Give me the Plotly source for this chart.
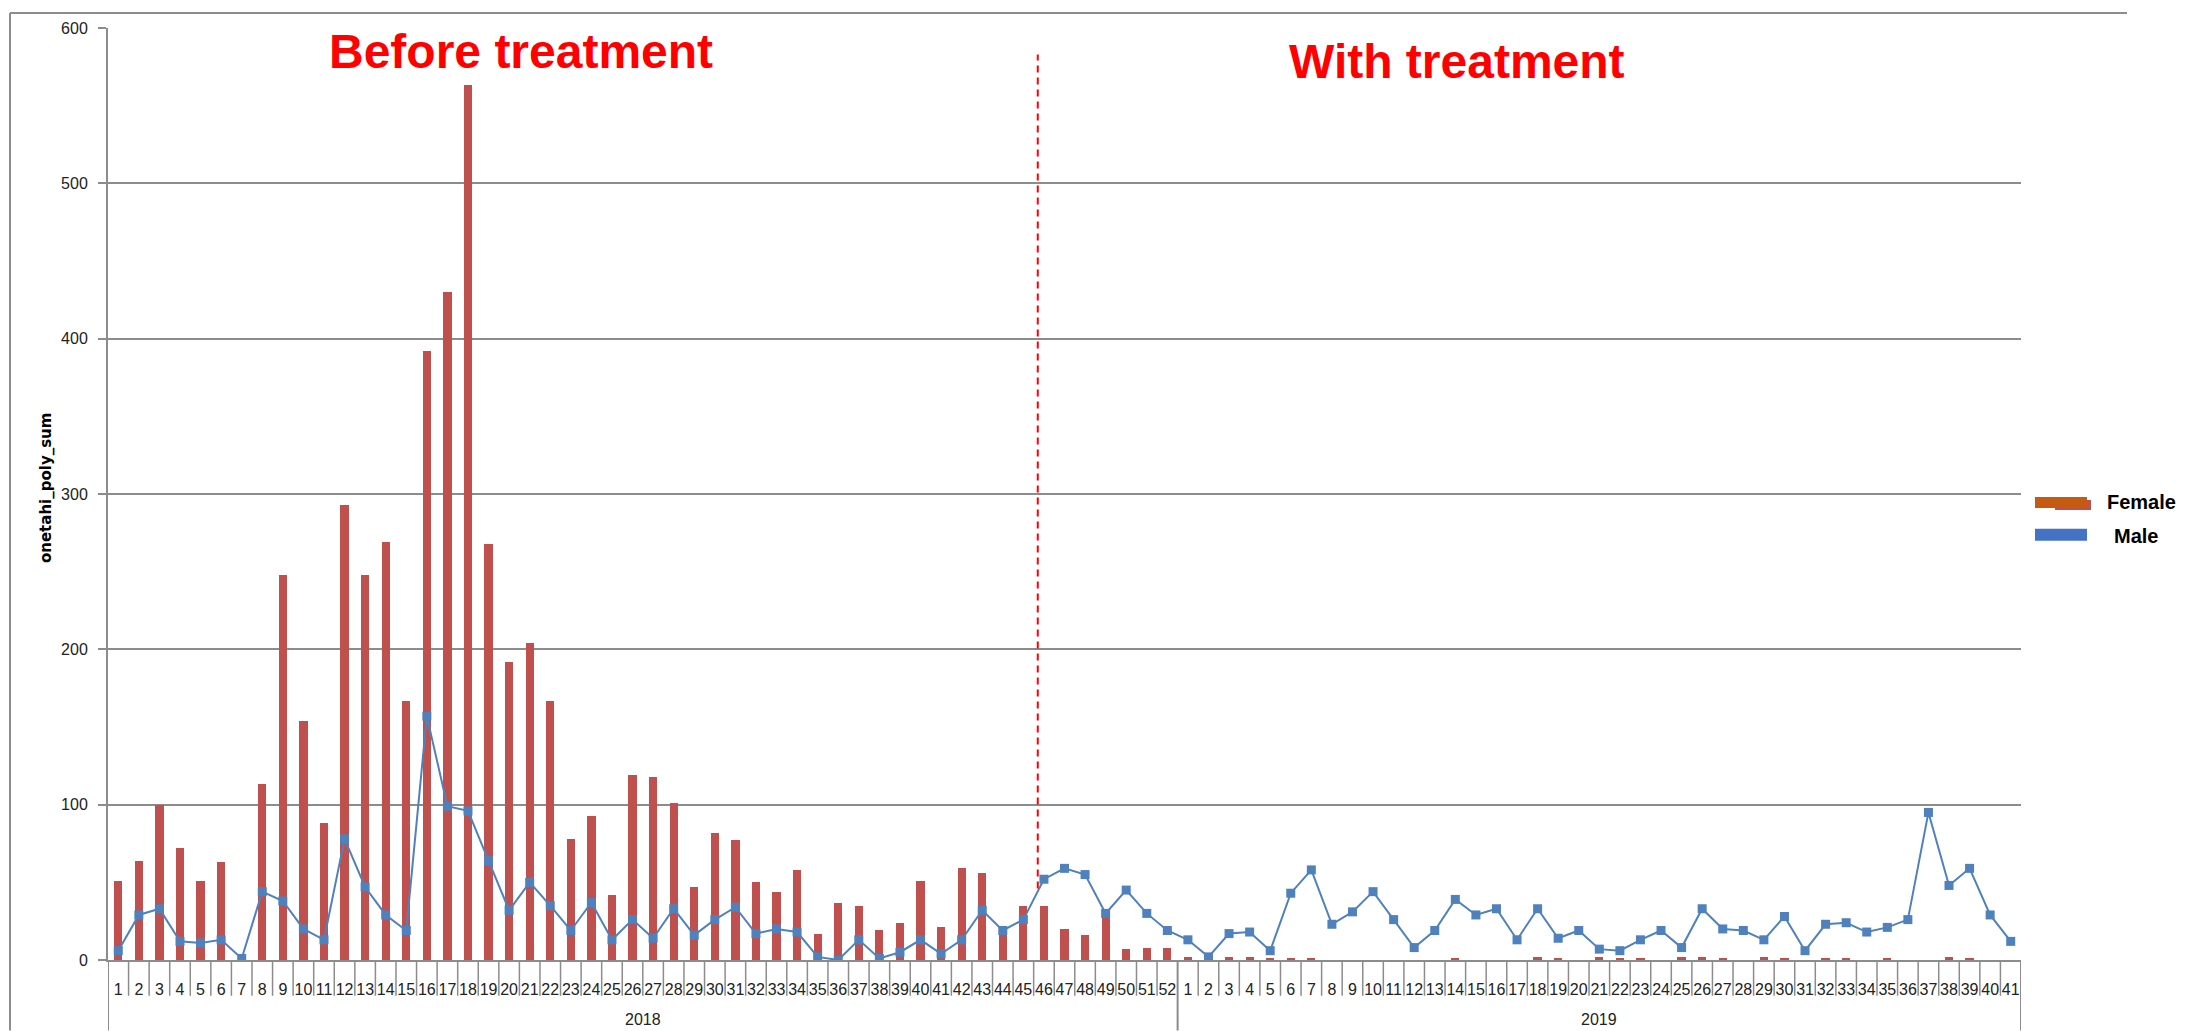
import plotly.graph_objects as go

# ---------------- data ----------------
years = ["2018", "2019"]
weeks_2018 = [str(w) for w in range(1, 53)]
weeks_2019 = [str(w) for w in range(1, 42)]

female_2018 = [51, 64, 100, 72, 51, 63, 4, 113, 248, 154, 88, 293, 248, 269, 167, 392, 430, 563,
               268, 192, 204, 167, 78, 93, 42, 119, 118, 101, 47, 82, 77, 50, 44, 58, 17, 37, 35,
               19, 24, 51, 21, 59, 56, 19, 35, 35, 20, 16, 33, 7, 8, 8]
female_2019 = [2, 1, 2, 2, 1, 1, 1, 0, 0, 0, 0, 0, 0, 1, 0, 0, 0, 2, 1, 0, 2, 1, 1, 0, 2, 2, 1, 0,
               2, 1, 0, 1, 1, 0, 1, 0, 0, 2, 1, 0, 0]
male_2018 = [6, 29, 33, 12, 11, 13, 1, 44, 38, 20, 13, 78, 47, 29, 19, 157, 99, 96, 64, 32, 50, 35,
             19, 37, 13, 26, 14, 33, 16, 26, 34, 17, 20, 18, 2, 0, 13, 1, 5, 13, 4, 13, 32, 19, 26,
             52, 59, 55, 30, 45, 30, 19]
male_2019 = [13, 2, 17, 18, 6, 43, 58, 23, 31, 44, 26, 8, 19, 39, 29, 33, 13, 33, 14, 19, 7, 6, 13,
             19, 8, 33, 20, 19, 13, 28, 6, 23, 24, 18, 21, 26, 95, 48, 59, 29, 12]

y_ticks = [0, 100, 200, 300, 400, 500, 600]
treatment_start = 44.7          # category position of the dashed marker line
treatment_line_range = [46, 583]
labels_text = ["Before treatment", "With treatment"]

# ---------------- derived ----------------
week_labels = weeks_2018 + weeks_2019
female = female_2018 + female_2019
male = male_2018 + male_2019
idx = list(range(len(week_labels)))
n18 = len(weeks_2018)
n = len(week_labels)

W, H = 2205, 1031
OFF = 8                      # browser default body margin
L, R, T, B = 108, 2021, 22, 960   # plot area in page pixels
PW, PH = R - L, B - T

def px(x):
    return (x - L) / PW

def py(y):
    return (B - y) / PH

GRAY = "#8c8c8c"
TXT = "#222222"
BAR = "#C0504D"
LINE = "#4F81BD"

fig = go.Figure()
fig.add_trace(go.Bar(x=idx, y=female, width=0.4, marker=dict(color=BAR, line=dict(width=0)),
                     name="Female", showlegend=False))
fig.add_trace(go.Scatter(x=idx, y=male, mode="lines+markers", name="Male", showlegend=False,
                         line=dict(color=LINE, width=2),
                         marker=dict(symbol="square", size=9, color=LINE)))

shapes = []
# category dividers below the axis
for i in range(n + 1):
    b = i - 0.5
    long = i in (0, n18, n)
    shapes.append(dict(type="line", xref="x", yref="paper", x0=b, x1=b, y0=0,
                       y1=py(H if long else B + 36),
                       line=dict(color=GRAY, width=2 if long else 1.5)))
# outer chart border (top and left)
shapes.append(dict(type="line", xref="paper", yref="paper", x0=px(10), x1=px(2127),
                   y0=py(7), y1=py(7), line=dict(color=GRAY, width=2)))
shapes.append(dict(type="line", xref="paper", yref="paper", x0=px(10), x1=px(10),
                   y0=py(7), y1=py(H), line=dict(color=GRAY, width=2)))
# treatment dashed line
shapes.append(dict(type="line", xref="x", yref="y", x0=treatment_start, x1=treatment_start,
                   y0=treatment_line_range[0], y1=treatment_line_range[1],
                   line=dict(color="#FF0000", width=2, dash="7px,5px")))
# legend swatches
shapes.append(dict(type="rect", xref="paper", yref="paper", x0=px(2055), x1=px(2091),
                   y0=py(507), y1=py(497), line=dict(width=0), fillcolor=BAR))
shapes.append(dict(type="rect", xref="paper", yref="paper", x0=px(2035), x1=px(2087),
                   y0=py(505), y1=py(494), line=dict(width=0), fillcolor="#C55A11"))
shapes.append(dict(type="rect", xref="paper", yref="paper", x0=px(2035), x1=px(2087),
                   y0=py(538), y1=py(526), line=dict(width=0), fillcolor="#4472C4"))

annotations = [
    dict(text=labels_text[0], xref="paper", yref="paper", x=px(521), y=py(46),
         xanchor="center", yanchor="middle", showarrow=False,
         font=dict(family="Liberation Sans, Arial", size=48, color="#FF0000", weight="bold")),
    dict(text=labels_text[1], xref="paper", yref="paper", x=px(1457), y=py(56),
         xanchor="center", yanchor="middle", showarrow=False,
         font=dict(family="Liberation Sans, Arial", size=48, color="#FF0000", weight="bold")),
    dict(text="onetahi_poly_sum", xref="paper", yref="paper", x=px(46), y=py(485),
         xanchor="center", yanchor="middle", textangle=-90, showarrow=False,
         font=dict(family="DejaVu Sans", size=15, color="#000000", weight="bold")),
    dict(text=years[0], xref="x", yref="paper", x=(n18 - 1) / 2, y=py(1020),
         xanchor="center", yanchor="middle", showarrow=False,
         font=dict(family="Liberation Sans, Arial", size=16, color=TXT)),
    dict(text=years[1], xref="x", yref="paper", x=n18 + (n - n18 - 1) / 2, y=py(1020),
         xanchor="center", yanchor="middle", showarrow=False,
         font=dict(family="Liberation Sans, Arial", size=16, color=TXT)),
    dict(text="Female", xref="paper", yref="paper", x=px(2105), y=py(499),
         xanchor="left", yanchor="middle", showarrow=False,
         font=dict(family="Liberation Sans, Arial", size=20, color="#000000", weight="bold")),
    dict(text="Male", xref="paper", yref="paper", x=px(2112), y=py(533),
         xanchor="left", yanchor="middle", showarrow=False,
         font=dict(family="Liberation Sans, Arial", size=20, color="#000000", weight="bold")),
]

fig.update_layout(
    width=W, height=H, autosize=False,
    margin=dict(l=L - OFF, r=W - (R - OFF), t=T - OFF, b=H - (B - OFF), pad=0),
    paper_bgcolor="white", plot_bgcolor="white",
    showlegend=False, bargap=0,
    shapes=shapes, annotations=annotations,
    xaxis=dict(range=[-0.5, n - 0.5], tickmode="array", tickvals=idx, ticktext=week_labels,
               ticks="outside", ticklen=14, tickcolor="rgba(0,0,0,0)", showgrid=False,
               zeroline=False, showline=True, linecolor=GRAY, linewidth=2,
               tickfont=dict(family="Liberation Sans, Arial", size=16, color=TXT), tickangle=0),
    yaxis=dict(range=[0, 600], tickmode="array", tickvals=y_ticks, ticks="outside", ticklen=8,
               tickcolor=GRAY, tickwidth=2, showgrid=True, gridcolor=GRAY, gridwidth=2,
               zeroline=False, showline=True, linecolor=GRAY, linewidth=2, ticklabelstandoff=7,
               tickfont=dict(family="Liberation Sans, Arial", size=16, color=TXT)),
)

fig.write_html("out.html")
